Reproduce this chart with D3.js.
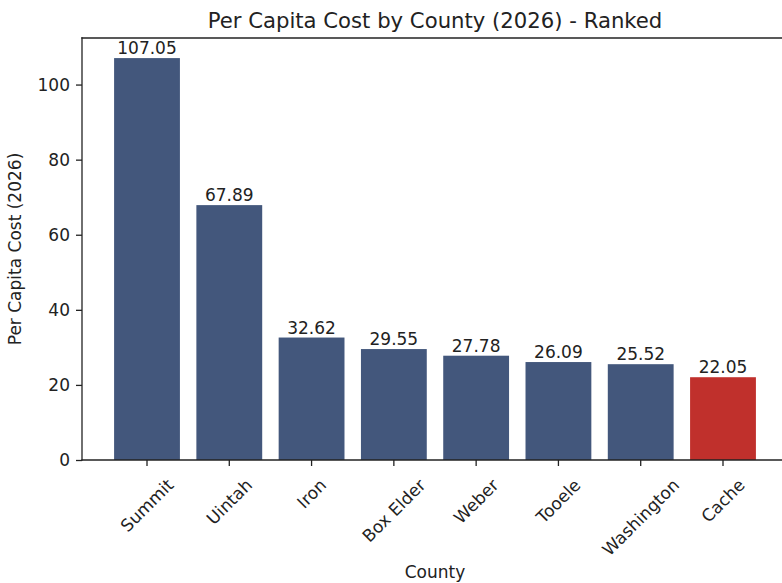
<!DOCTYPE html>
<html>
<head>
<meta charset="utf-8">
<script src="https://cdn.jsdelivr.net/npm/d3@7"></script>
<style>
  body { margin: 0; background: #fff; overflow: hidden; }
  svg { display: block; font-family: "DejaVu Sans", sans-serif; }
</style>
</head>
<body>
<div id="chart"></div>
<script>
const counties = ["Summit", "Uintah", "Iron", "Box Elder", "Weber", "Tooele", "Washington", "Cache"];
const perCapita = [107.05, 67.89, 32.62, 29.55, 27.78, 26.09, 25.52, 22.05];
const highlight = "Cache";
const yTicks = [0, 20, 40, 60, 80, 100];

const width = 782, height = 583;
const plot = { left: 82, right: 788, top: 38, bottom: 460 };
const barColour = "#43577c";
const highlightColour = "#c0302c";
const fontSize = 17;

const svg = d3.select("#chart").append("svg")
  .attr("width", width)
  .attr("height", height);

// linear x like matplotlib: categories at 0..n-1, margins of 0.05
const n = counties.length;
const pad = (n - 1 + 0.8) * 0.05 + 0.4;
const x = d3.scaleLinear()
  .domain([-pad, n - 1 + pad])
  .range([plot.left, plot.right]);
const barWidth = x(0.8) - x(0);

const yMax = d3.max(perCapita) * 1.05;
const y = d3.scaleLinear()
  .domain([0, yMax])
  .range([plot.bottom, plot.top]);

// bars
svg.append("g")
  .selectAll("rect")
  .data(perCapita)
  .enter()
  .append("rect")
  .attr("x", (d, i) => x(i) - barWidth / 2)
  .attr("y", (d) => y(d))
  .attr("width", barWidth)
  .attr("height", (d) => y(0) - y(d))
  .attr("fill", (d, i) => counties[i] === highlight ? highlightColour : barColour);

// value labels
svg.append("g")
  .selectAll("text")
  .data(perCapita)
  .enter()
  .append("text")
  .attr("x", (d, i) => x(i))
  .attr("y", (d) => y(d) - 4)
  .attr("text-anchor", "middle")
  .attr("font-size", fontSize)
  .attr("fill", "#222")
  .text((d) => d.toFixed(2));

// spines: left, top, bottom (right one is off the canvas)
const spines = [
  [plot.left, plot.top, plot.left, plot.bottom],
  [plot.left, plot.top, width, plot.top],
  [plot.left, plot.bottom, width, plot.bottom]
];
svg.append("g")
  .selectAll("line")
  .data(spines)
  .enter()
  .append("line")
  .attr("x1", (d) => d[0])
  .attr("y1", (d) => d[1])
  .attr("x2", (d) => d[2])
  .attr("y2", (d) => d[3])
  .attr("stroke", "#222")
  .attr("stroke-width", 1.3)
  .attr("stroke-linecap", "square");

// y axis
const yAxis = svg.append("g")
  .attr("transform", `translate(${plot.left},0)`)
  .call(d3.axisLeft(y).tickValues(yTicks).tickSize(6).tickPadding(6).tickFormat(d3.format("d")));
yAxis.select(".domain").remove();
yAxis.selectAll("line").attr("stroke", "#222").attr("stroke-width", 1.3);
yAxis.selectAll("text")
  .attr("font-size", fontSize)
  .attr("font-family", "DejaVu Sans")
  .attr("fill", "#222");

// x axis ticks
const xAxis = svg.append("g")
  .attr("transform", `translate(0,${plot.bottom})`);
xAxis.selectAll("line")
  .data(counties)
  .enter()
  .append("line")
  .attr("x1", (d, i) => x(i))
  .attr("x2", (d, i) => x(i))
  .attr("y1", 0)
  .attr("y2", 6)
  .attr("stroke", "#222")
  .attr("stroke-width", 1.3);

// rotated labels, bbox centred on the tick, top just below it
const labelTop = 15;
const lineH = fontSize * 1.16;
xAxis.selectAll("text")
  .data(counties)
  .enter()
  .append("text")
  .attr("font-size", fontSize)
  .attr("fill", "#222")
  .attr("text-anchor", "middle")
  .attr("dominant-baseline", "central")
  .text((d) => d)
  .each(function (d, i) {
    const w = this.getComputedTextLength();
    const half = (w + lineH) / Math.SQRT2 / 2;
    const cx = x(i);
    const cy = labelTop + half;
    d3.select(this)
      .attr("x", cx)
      .attr("y", cy)
      .attr("transform", `rotate(-45,${cx},${cy})`);
  });

// title and axis labels
const plotCentre = (plot.left + plot.right) / 2;
svg.append("text")
  .attr("x", plotCentre)
  .attr("y", 28)
  .attr("text-anchor", "middle")
  .attr("font-size", 21.2)
  .attr("fill", "#222")
  .text("Per Capita Cost by County (2026) - Ranked");

svg.append("text")
  .attr("x", plotCentre)
  .attr("y", 578)
  .attr("text-anchor", "middle")
  .attr("font-size", fontSize)
  .attr("fill", "#222")
  .text("County");

svg.append("text")
  .attr("transform", `translate(21,${(plot.top + plot.bottom) / 2}) rotate(-90)`)
  .attr("text-anchor", "middle")
  .attr("font-size", fontSize)
  .attr("fill", "#222")
  .text("Per Capita Cost (2026)");
</script>
</body>
</html>
